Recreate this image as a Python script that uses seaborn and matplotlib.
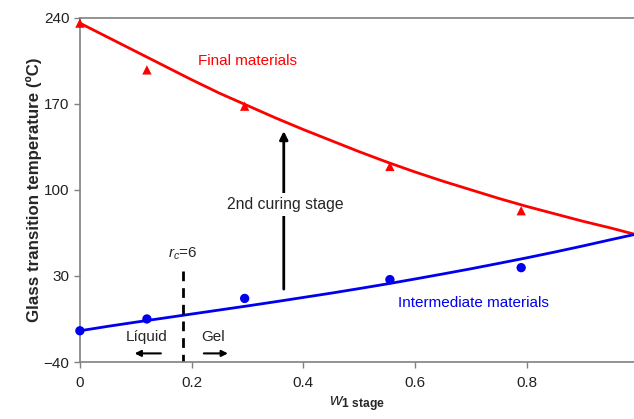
import numpy as np
import pandas as pd
import matplotlib
matplotlib.use('Agg')
import matplotlib.pyplot as plt
import seaborn as sns

# measured points
w_pts = [0.0, 0.12, 0.295, 0.555, 0.79]
tg_final = [235.5, 197.5, 168, 119, 83]
tg_inter = [-14.6, -5, 11.7, 27, 36.7]

# model curves
w_curve = [0.0, 0.05, 0.1, 0.15, 0.2, 0.25, 0.3, 0.35, 0.4, 0.45, 0.5,
           0.55, 0.6, 0.65, 0.7, 0.75, 0.8, 0.85, 0.9, 0.95, 0.992]
tg_final_curve = [235.5, 224, 212.5, 201, 189.5, 178.5, 168.5, 158.5, 149, 140, 131,
                  122.5, 114.5, 107, 100, 93, 86.5, 80.5, 74.5, 69, 64]
tg_inter_curve = [-14.6, -11, -7.6, -4.3, -1, 2.3, 5.6, 9, 12.5, 16, 19.7,
                  23.5, 27.5, 31.6, 35.8, 40.2, 44.7, 49.4, 54.3, 59.4, 63.6]

xticks = [0, 0.2, 0.4, 0.6, 0.8]
xticklabels = ['0', '0.2', '0.4', '0.6', '0.8']
yticks = [-40, 30, 100, 170, 240]

sns.set_style('white')
plt.rcParams['font.family'] = ['Liberation Sans', 'DejaVu Sans']
plt.rcParams['mathtext.fontset'] = 'custom'
plt.rcParams['mathtext.rm'] = 'Liberation Sans'
plt.rcParams['mathtext.it'] = 'Liberation Sans:italic'
plt.rcParams['mathtext.bf'] = 'Liberation Sans:bold'

fig = plt.figure(figsize=(6.34, 4.19), dpi=100)
ax = fig.add_axes([0.126, 0.136, 0.874, 0.822])

pts = pd.DataFrame({'w': w_pts, 'final': tg_final, 'inter': tg_inter})
crv = pd.DataFrame({'w': w_curve, 'final': tg_final_curve, 'inter': tg_inter_curve})

sns.lineplot(data=crv, x='w', y='final', color='#ff0000', lw=2, ax=ax, clip_on=False)
sns.lineplot(data=crv, x='w', y='inter', color='#0000ee', lw=2, ax=ax, clip_on=False)
sns.scatterplot(data=pts, x='w', y='final', marker='^', color='#ff0000', s=45,
                edgecolor='none', ax=ax, clip_on=False, zorder=5)
sns.scatterplot(data=pts, x='w', y='inter', marker='o', color='#0000ee', s=45,
                edgecolor='none', ax=ax, clip_on=False, zorder=5)

ax.set_xlim(0, 0.992)
ax.set_ylim(-40, 240)
ax.set_xticks(xticks)
ax.set_xticklabels(xticklabels)
ax.set_yticks(yticks)
ax.tick_params(axis='both', labelsize=11, colors='#808080', labelcolor='#222222',
               length=4, width=1, direction='out', bottom=True, left=True)
ax.tick_params(axis='x', pad=6)

for s in ['left', 'bottom', 'top']:
    ax.spines[s].set_color('#808080')
    ax.spines[s].set_linewidth(1.2)
ax.spines['right'].set_visible(False)

ax.set_ylabel('Glass transition temperature (ºC)', fontsize=12.2, fontweight='bold',
              labelpad=1)
ax.set_xlabel(r'$w_{\mathbf{1\ stage}}$', fontsize=12.5, labelpad=3)

# annotations
ax.text(0.30, 205, 'Final materials', color='#ff0000', fontsize=11,
        ha='center', va='center')
ax.text(0.705, 8, 'Intermediate materials', color='#0000ee', fontsize=11,
        ha='center', va='center')
ax.annotate('', xy=(0.365, 150), xytext=(0.365, 17),
            arrowprops=dict(arrowstyle='-|>', color='black', lw=2, mutation_scale=12))
ax.text(0.367, 88, '2nd curing stage', fontsize=11.3, ha='center', va='center',
        bbox=dict(facecolor='white', edgecolor='none', pad=3), zorder=6)

ax.plot([0.184, 0.184], [34, -40], color='black', lw=2, ls=(0, (3.5, 2.5)))
ax.text(0.184, 48, r'$r_c$=6', fontsize=11, ha='center', va='center')

ax.text(0.12, -20, 'Líquid', fontsize=11, ha='center', va='center')
ax.annotate('', xy=(0.093, -33), xytext=(0.15, -33),
            arrowprops=dict(arrowstyle='-|>', color='black', lw=1.5, mutation_scale=9))
ax.text(0.238, -20, 'Gel', fontsize=11, ha='center', va='center')
ax.annotate('', xy=(0.27, -33), xytext=(0.217, -33),
            arrowprops=dict(arrowstyle='-|>', color='black', lw=1.5, mutation_scale=9))

fig.savefig('out.png', dpi=100)
